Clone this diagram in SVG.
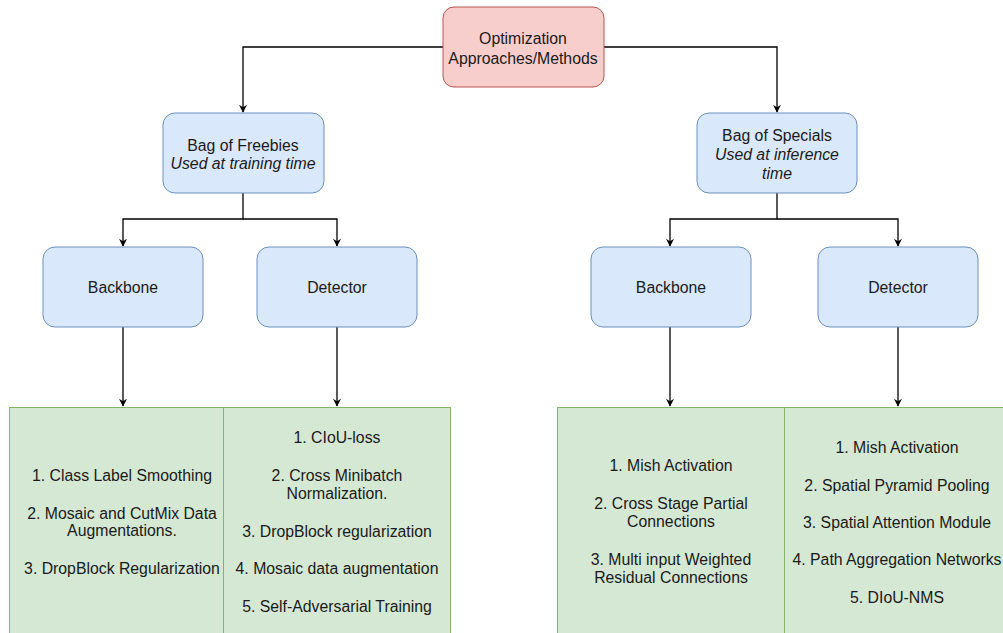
<svg xmlns="http://www.w3.org/2000/svg" width="1003" height="633" viewBox="0 0 1003 633">
  <style>
    text { font-family: "Liberation Sans", Arial, sans-serif; font-size: 15.8px; fill: #1a1a1a; text-anchor: middle; }
    .it { font-style: italic; }
    .red { fill: #f8cecc; stroke: #b85450; stroke-width: 1; }
    .blue { fill: #dae8fc; stroke: #6c8ebf; stroke-width: 1; }
    .green { fill: #d5e8d4; stroke: #82b366; stroke-width: 1; }
    .edge { fill: none; stroke: #000; stroke-width: 1.3; marker-end: url(#arrow); }
  </style>
  <defs>
    <marker id="arrow" viewBox="0 0 10 10" refX="9" refY="5" markerWidth="8" markerHeight="8" markerUnits="userSpaceOnUse" orient="auto">
      <path d="M0,0 L10,5 L0,10 L3,5 Z" fill="#000"/>
    </marker>
  </defs>
  <rect width="1003" height="633" fill="#fff"/>

  <g id="connectors">
    <path class="edge" d="M443,47 H243 V112"/>
    <path class="edge" d="M604,47 H777 V112"/>
    <path class="edge" d="M243,193 V219 H123 V246"/>
    <path class="edge" d="M243,219 H337 V246"/>
    <path class="edge" d="M777,193 V219 H670 V246"/>
    <path class="edge" d="M777,219 H898 V246"/>
    <path class="edge" d="M123,327 V406"/>
    <path class="edge" d="M337,327 V406"/>
    <path class="edge" d="M670,327 V406"/>
    <path class="edge" d="M898,327 V406"/>
  </g>

  <g id="root">
    <rect class="red" x="443" y="7" width="161" height="80" rx="11"/>
    <text x="523" y="44">Optimization</text>
    <text x="523" y="64">Approaches/Methods</text>
  </g>

  <g id="freebies">
    <rect class="blue" x="163" y="113" width="161" height="80" rx="12"/>
    <text x="243" y="151">Bag of Freebies</text>
    <text class="it" x="243" y="169">Used at training time</text>
  </g>

  <g id="specials">
    <rect class="blue" x="697" y="113" width="160" height="80" rx="12"/>
    <text x="777" y="141">Bag of Specials</text>
    <text class="it" x="777" y="160">Used at inference</text>
    <text class="it" x="777" y="179">time</text>
  </g>

  <g id="freebies-backbone">
    <rect class="blue" x="43" y="247" width="160" height="80" rx="12"/>
    <text x="123" y="293">Backbone</text>
  </g>
  <g id="freebies-detector">
    <rect class="blue" x="257" y="247" width="160" height="80" rx="12"/>
    <text x="337" y="293">Detector</text>
  </g>
  <g id="specials-backbone">
    <rect class="blue" x="591" y="247" width="160" height="80" rx="12"/>
    <text x="671" y="293">Backbone</text>
  </g>
  <g id="specials-detector">
    <rect class="blue" x="818" y="247" width="160" height="80" rx="12"/>
    <text x="898" y="293">Detector</text>
  </g>

  <g id="freebies-backbone-list">
    <rect class="green" x="9.5" y="407.5" width="214" height="240"/>
    <text x="122" y="481">1. Class Label Smoothing</text>
    <text x="122" y="519">2. Mosaic and CutMix Data</text>
    <text x="122" y="536">Augmentations.</text>
    <text x="122" y="574">3. DropBlock Regularization</text>
  </g>
  <g id="freebies-detector-list">
    <rect class="green" x="223.5" y="407.5" width="227" height="240"/>
    <text x="337" y="443">1. CIoU-loss</text>
    <text x="337" y="481">2. Cross Minibatch</text>
    <text x="337" y="499">Normalization.</text>
    <text x="337" y="537">3. DropBlock regularization</text>
    <text x="337" y="574">4. Mosaic data augmentation</text>
    <text x="337" y="612">5. Self-Adversarial Training</text>
  </g>
  <g id="specials-backbone-list">
    <rect class="green" x="557.5" y="407.5" width="227" height="240"/>
    <text x="671" y="471">1. Mish Activation</text>
    <text x="671" y="509">2. Cross Stage Partial</text>
    <text x="671" y="527">Connections</text>
    <text x="671" y="565">3. Multi input Weighted</text>
    <text x="671" y="583">Residual Connections</text>
  </g>
  <g id="specials-detector-list">
    <rect class="green" x="784.5" y="407.5" width="228" height="240"/>
    <text x="897" y="453">1. Mish Activation</text>
    <text x="897" y="491">2. Spatial Pyramid Pooling</text>
    <text x="897" y="528">3. Spatial Attention Module</text>
    <text x="897" y="565">4. Path Aggregation Networks</text>
    <text x="897" y="603">5. DIoU-NMS</text>
  </g>
</svg>
